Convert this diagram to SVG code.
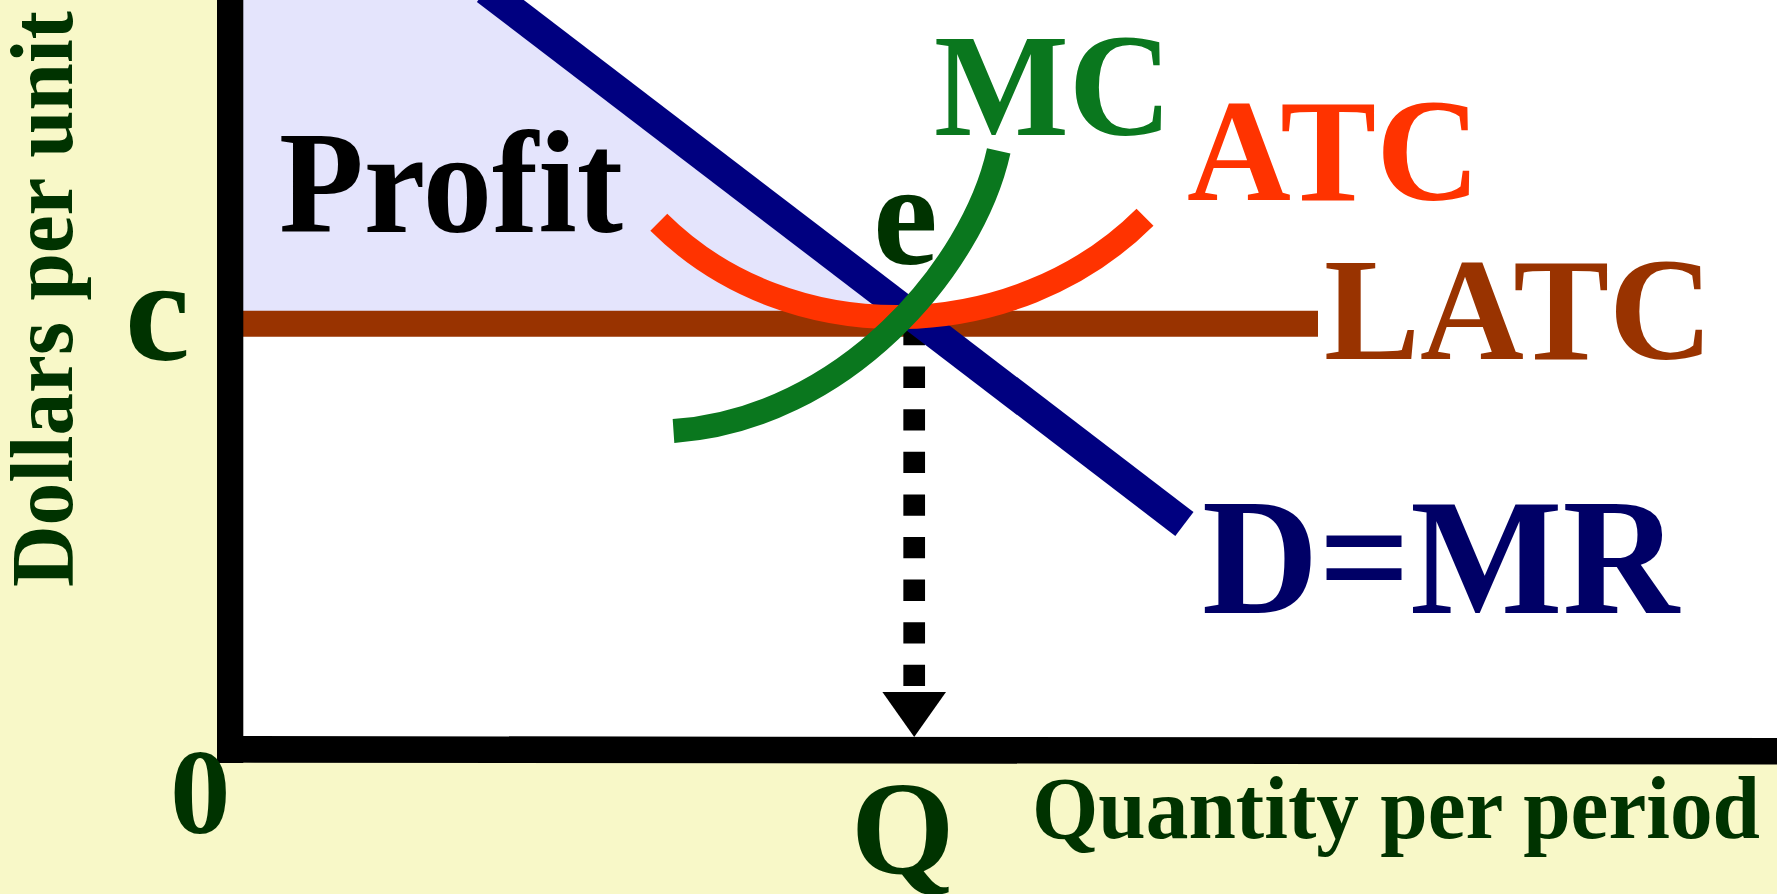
<svg xmlns="http://www.w3.org/2000/svg" width="1777" height="894" viewBox="0 0 1777 894">
<style>
.lbl{font-family:"Liberation Serif","Times New Roman",serif;font-weight:bold}
.curve{fill:none;stroke-linecap:butt}
</style>
<rect id="background" x="0" y="0" width="1777" height="894" fill="#F8F8C8"/>
<rect id="plot-area" x="217" y="0" width="1560" height="750" fill="#FFFFFF"/>
<g id="profit-area">
<polygon points="243,0 499,0 923,324 243,324" fill="#E4E4FC"/>
</g>
<g id="curves">
<line id="latc-line" x1="243" y1="323.7" x2="1318" y2="323.7" stroke="#993300" stroke-width="26"/>
<g id="q-guide">
<line x1="914.2" y1="324" x2="914.2" y2="692" stroke="#000" stroke-width="21.7" stroke-dasharray="21.3 21.3"/>
<polygon points="882.4,692 946,692 914.2,737" fill="#000"/>
</g>
<line id="demand-line" x1="486" y1="-10" x2="1184.4" y2="524" stroke="#000080" stroke-width="30"/>
<path id="atc-curve" class="curve" d="M658.8,222.3 C789,352 1015,347 1145,217.2" stroke="#FF3300" stroke-width="24"/>
<path id="mc-curve" class="curve" d="M673.5,431 C843.5,419.4 972.9,268 998.7,150.8" stroke="#0A771E" stroke-width="24"/>
</g>
<g id="axes">
<rect x="217" y="0" width="26.3" height="763" fill="#000"/>
<line x1="217" y1="749.3" x2="1777" y2="751.3" stroke="#000" stroke-width="26.6"/>
</g>
<g id="labels">
<text id="label-profit" class="lbl" x="279" y="232" font-size="146" fill="#000" textLength="344" lengthAdjust="spacingAndGlyphs">Profit</text>
<text id="label-mc" class="lbl" x="934" y="135" font-size="146" fill="#0A771E" textLength="238" lengthAdjust="spacingAndGlyphs">MC</text>
<text id="label-atc" class="lbl" x="1187" y="200" font-size="146" fill="#FF3300" textLength="293" lengthAdjust="spacingAndGlyphs">ATC</text>
<text id="label-latc" class="lbl" x="1324" y="359.3" font-size="146" fill="#993300" textLength="389" lengthAdjust="spacingAndGlyphs">LATC</text>
<text id="label-dmr" class="lbl" x="1202" y="613" font-size="165" fill="#000066" textLength="477" lengthAdjust="spacingAndGlyphs">D=MR</text>
<text id="label-e" class="lbl" x="873" y="264" font-size="146" fill="#003300">e</text>
<text id="label-c" class="lbl" x="125" y="360" font-size="146" fill="#003300">c</text>
<text id="label-zero" class="lbl" x="170" y="833" font-size="121" fill="#003300">0</text>
<text id="label-q" class="lbl" x="851" y="873" font-size="133" fill="#003300">Q</text>
<text id="label-x-axis" class="lbl" x="1032" y="838" font-size="88" fill="#003300" textLength="728" lengthAdjust="spacingAndGlyphs">Quantity per period</text>
<text id="label-y-axis" class="lbl" transform="translate(72,587) rotate(-90)" x="0" y="0" font-size="88" fill="#003300" textLength="576" lengthAdjust="spacingAndGlyphs">Dollars per unit</text>
</g>
</svg>
